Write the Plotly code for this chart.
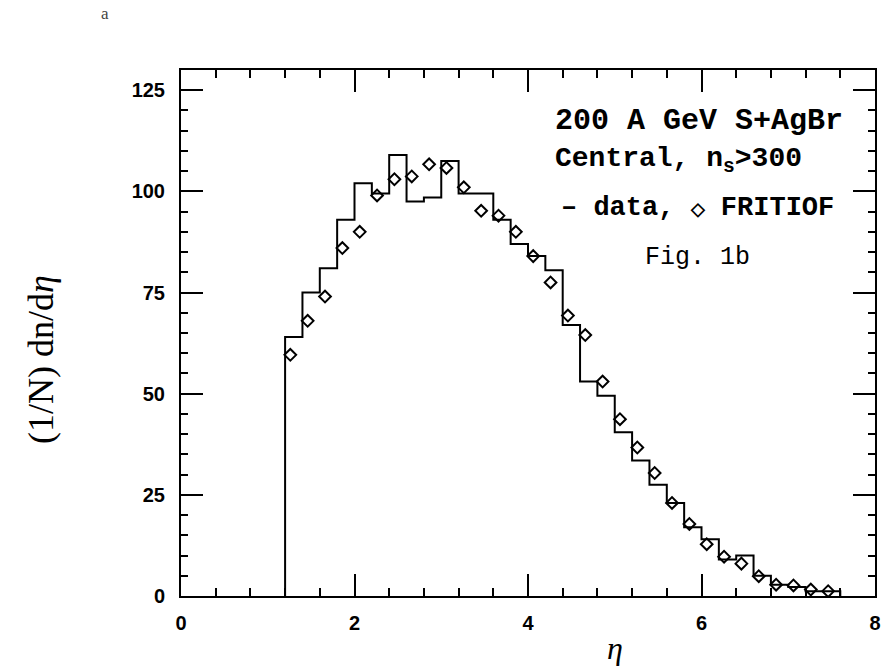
import plotly.graph_objects as go

# ---- data ----
hist_edges = [1.2, 1.4, 1.6, 1.8, 2.0, 2.2, 2.4, 2.6, 2.8, 3.0, 3.2, 3.4, 3.6, 3.8,
              4.0, 4.2, 4.4, 4.6, 4.8, 5.0, 5.2, 5.4, 5.6, 5.8, 6.0, 6.2, 6.4, 6.6,
              6.8, 7.0, 7.2, 7.4, 7.6]
hist_data = [64, 75, 81, 93, 102, 99.5, 109, 97.5, 98.5, 107.5, 99.5, 99.5, 93, 87,
             84, 80.5, 67, 53, 49.5, 40.5, 33.5, 27.5, 23, 17, 14, 9, 10, 5,
             2.8, 2.2, 1.2, 1.2]

fritiof_eta = [1.26, 1.46, 1.66, 1.86, 2.06, 2.26, 2.46, 2.66, 2.86, 3.06, 3.26, 3.46,
               3.66, 3.86, 4.06, 4.26, 4.46, 4.66, 4.86, 5.06, 5.26, 5.46, 5.66, 5.86,
               6.06, 6.26, 6.46, 6.66, 6.86, 7.06, 7.26, 7.46]
fritiof_val = [59.6, 68, 74, 86, 90, 99, 103, 103.7, 106.7, 105.8, 101, 95.2,
               94, 90, 84, 77.5, 69.3, 64.5, 53, 43.7, 36.7, 30.4, 23, 17.8,
               12.8, 9.7, 8, 4.9, 2.8, 2.6, 1.6, 1.2]

x_ticks = [0, 2, 4, 6, 8]
y_ticks = [0, 25, 50, 75, 100, 125]

# histogram outline as a step line
hx = [hist_edges[0]] + hist_edges
hy = [0] + hist_data + [0]

fig = go.Figure()
fig.add_trace(go.Scatter(x=hx, y=hy, mode="lines", line=dict(color="black", width=2, shape="hv"),
                         showlegend=False, hoverinfo="skip"))
fig.add_trace(go.Scatter(x=fritiof_eta, y=fritiof_val, mode="markers",
                         marker=dict(symbol="diamond-open", size=9, color="black",
                                     line=dict(color="black", width=2)),
                         showlegend=False))

tickfont = dict(family="Liberation Sans", size=20, color="black", weight="bold")
axis_common = dict(showline=True, linecolor="black", linewidth=2, mirror="allticks",
                   ticks="inside", ticklen=22, tickwidth=2, tickcolor="black",
                   showgrid=False, zeroline=False, tickfont=tickfont)

fig.update_xaxes(range=[0, 8], tickvals=x_ticks, ticktext=[str(v) for v in x_ticks],
                 ticklabelstandoff=8,
                 minor=dict(dtick=0.4, ticks="inside", ticklen=8, tickwidth=2, tickcolor="black",
                            showgrid=False),
                 **axis_common)
fig.update_yaxes(range=[0, 130], tickvals=y_ticks, ticktext=[str(v) for v in y_ticks],
                 ticklabelstandoff=10,
                 minor=dict(dtick=5, ticks="inside", ticklen=7, tickwidth=2, tickcolor="black",
                            showgrid=False),
                 **axis_common)

mono = "Liberation Mono"
L, R, T, B = 181, 875, 70, 596
W, H = R - L, B - T


def px(xp):
    return (xp - L) / W


def py(yp):
    return (B - yp) / H


anns = [
    dict(text="200 A GeV S+AgBr", x=px(553), y=py(121), xanchor="left", yanchor="middle",
         font=dict(family=mono, size=30, color="black", weight="bold")),
    dict(text="Central, n<sub>s</sub>>300", x=px(553), y=py(160), xanchor="left", yanchor="middle",
         font=dict(family=mono, size=28, color="black", weight="bold")),
    dict(text="– data, <span style='font-size:18px'>◇</span> FRITIOF", x=px(559), y=py(208),
         xanchor="left", yanchor="middle",
         font=dict(family=mono, size=27, color="black", weight="bold")),
    dict(text="Fig. 1b", x=px(697), y=py(257), xanchor="center", yanchor="middle",
         font=dict(family=mono, size=25, color="black")),
    dict(text="(1/N) dn/d<i>η</i>", x=px(41), y=py(360), xanchor="center", yanchor="middle",
         textangle=-90, font=dict(family="Liberation Serif", size=36, color="black")),
    dict(text="<i>η</i>", x=px(615), y=py(648), xanchor="center", yanchor="middle",
         font=dict(family="Liberation Serif", size=32, color="black")),
    dict(text="a", x=px(105), y=py(14), xanchor="center", yanchor="middle",
         font=dict(family="Liberation Serif", size=17, color="#444444")),
]
for a in anns:
    a.update(xref="paper", yref="paper", showarrow=False)

fig.update_layout(width=892, height=670, margin=dict(l=L, r=892 - R, t=T, b=670 - B),
                  paper_bgcolor="white", plot_bgcolor="white", annotations=anns,
                  showlegend=False)

fig.write_html("out.html", config={"displayModeBar": False},
               post_script="document.body.style.margin='0px';")
